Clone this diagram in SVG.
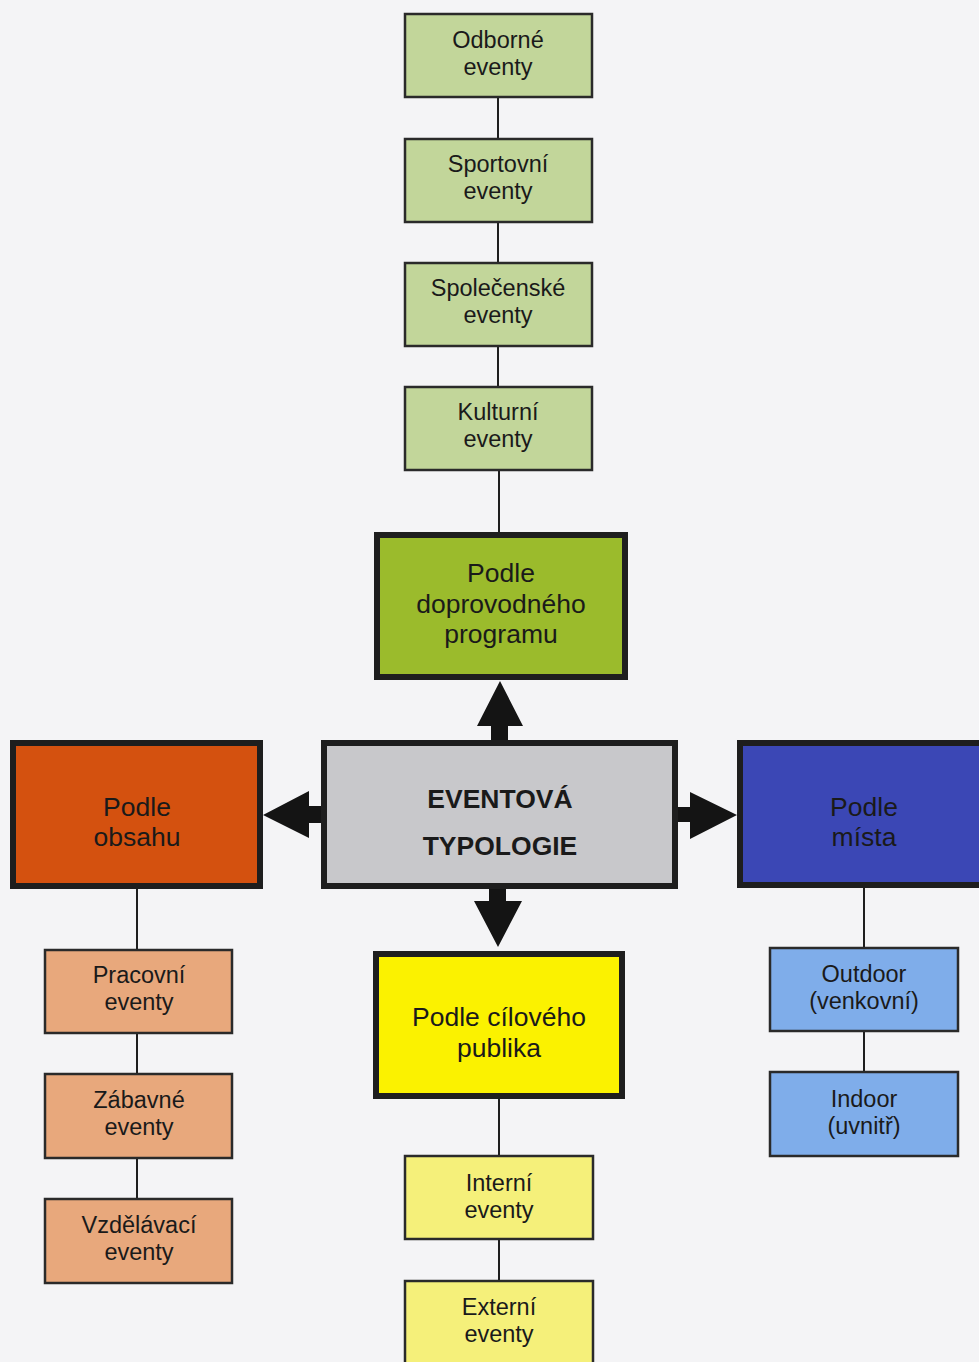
<svg xmlns="http://www.w3.org/2000/svg" width="979" height="1362" viewBox="0 0 979 1362">
<style>
text{font-family:"Liberation Sans",Arial,sans-serif;fill:#1a1a1a;text-anchor:middle}
.s{font-size:23.5px}
.b{font-size:26.5px}
.c{font-size:26.5px;font-weight:bold}
.sm{stroke:#2a2a2a;stroke-width:2.5}
.bg{stroke:#1e1e1e;stroke-width:6}
.ln{stroke:#1e1e1e;stroke-width:2;fill:none}
.ar{fill:#141414}
</style>
<rect width="979" height="1362" fill="#f4f4f6"/>
<g id="connectors">
<line class="ln" x1="498" y1="97" x2="498" y2="139"/>
<line class="ln" x1="498" y1="222" x2="498" y2="263"/>
<line class="ln" x1="498" y1="346" x2="498" y2="387"/>
<line class="ln" x1="499" y1="470" x2="499" y2="532"/>
<line class="ln" x1="137" y1="889" x2="137" y2="950"/>
<line class="ln" x1="137" y1="1033" x2="137" y2="1074"/>
<line class="ln" x1="137" y1="1158" x2="137" y2="1199"/>
<line class="ln" x1="864" y1="888" x2="864" y2="948"/>
<line class="ln" x1="864" y1="1031" x2="864" y2="1072"/>
<line class="ln" x1="499" y1="1099" x2="499" y2="1156"/>
<line class="ln" x1="499" y1="1239" x2="499" y2="1281"/>
<polygon class="ar" points="500,681 523,726 508,726 508,741 491,741 491,726 477,726"/>
<polygon class="ar" points="498,947 522,901 506,901 506,888 489,888 489,901 474,901"/>
<polygon class="ar" points="263,815 309,791 309,806 322,806 322,823 309,823 309,838"/>
<polygon class="ar" points="737,815 690,792 690,807 677,807 677,822 690,822 690,839"/>
</g>
<g id="odborne"><rect class="sm" x="405" y="14" width="187" height="83" fill="#c2d69a"/><text class="s" x="498" y="48">Odborné</text><text class="s" x="498" y="75">eventy</text></g>
<g id="sportovni"><rect class="sm" x="405" y="139" width="187" height="83" fill="#c2d69a"/><text class="s" x="498" y="172">Sportovní</text><text class="s" x="498" y="199">eventy</text></g>
<g id="spolecenske"><rect class="sm" x="405" y="263" width="187" height="83" fill="#c2d69a"/><text class="s" x="498" y="296">Společenské</text><text class="s" x="498" y="323">eventy</text></g>
<g id="kulturni"><rect class="sm" x="405" y="387" width="187" height="83" fill="#c2d69a"/><text class="s" x="498" y="420">Kulturní</text><text class="s" x="498" y="447">eventy</text></g>
<g id="doprovodny"><rect class="bg" x="377" y="535" width="248" height="142" fill="#9bbb2c"/><text class="b" x="501" y="582">Podle</text><text class="b" x="501" y="613">doprovodného</text><text class="b" x="501" y="643">programu</text></g>
<g id="typologie"><rect class="bg" x="324" y="743" width="351" height="143" fill="#c8c8cb"/><text class="c" x="500" y="808">EVENTOVÁ</text><text class="c" x="500" y="855">TYPOLOGIE</text></g>
<g id="obsah"><rect class="bg" x="13" y="743" width="247" height="143" fill="#d4510f"/><text class="b" x="137" y="816">Podle</text><text class="b" x="137" y="846">obsahu</text></g>
<g id="misto"><rect class="bg" x="740" y="743" width="245" height="142" fill="#3b47b5"/><text class="b" x="864" y="816">Podle</text><text class="b" x="864" y="846">místa</text></g>
<g id="cilove"><rect class="bg" x="376" y="954" width="246" height="142" fill="#fbf200"/><text class="b" x="499" y="1026">Podle cílového</text><text class="b" x="499" y="1057">publika</text></g>
<g id="pracovni"><rect class="sm" x="45" y="950" width="187" height="83" fill="#e8a87c"/><text class="s" x="139" y="983">Pracovní</text><text class="s" x="139" y="1010">eventy</text></g>
<g id="zabavne"><rect class="sm" x="45" y="1074" width="187" height="84" fill="#e8a87c"/><text class="s" x="139" y="1108">Zábavné</text><text class="s" x="139" y="1135">eventy</text></g>
<g id="vzdelavaci"><rect class="sm" x="45" y="1199" width="187" height="84" fill="#e8a87c"/><text class="s" x="139" y="1233">Vzdělávací</text><text class="s" x="139" y="1260">eventy</text></g>
<g id="outdoor"><rect class="sm" x="770" y="948" width="188" height="83" fill="#7fadea"/><text class="s" x="864" y="982">Outdoor</text><text class="s" x="864" y="1009">(venkovní)</text></g>
<g id="indoor"><rect class="sm" x="770" y="1072" width="188" height="84" fill="#7fadea"/><text class="s" x="864" y="1107">Indoor</text><text class="s" x="864" y="1134">(uvnitř)</text></g>
<g id="interni"><rect class="sm" x="405" y="1156" width="188" height="83" fill="#f5f07a"/><text class="s" x="499" y="1191">Interní</text><text class="s" x="499" y="1218">eventy</text></g>
<g id="externi"><rect class="sm" x="405" y="1281" width="188" height="90" fill="#f5f07a"/><text class="s" x="499" y="1315">Externí</text><text class="s" x="499" y="1342">eventy</text></g>
</svg>
